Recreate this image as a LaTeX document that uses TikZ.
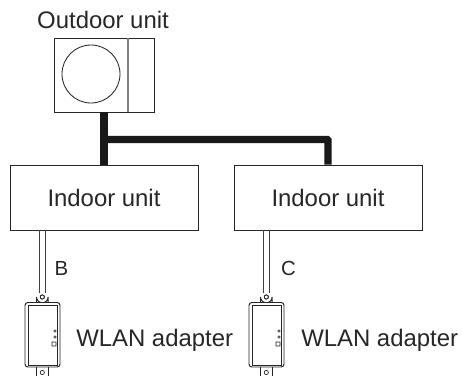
\documentclass[tikz,border=0pt]{standalone}
\usepackage{fontspec}
\setmainfont{Liberation Sans}
\usepackage{tikz}

\tikzset{
	unitbox/.style={draw=black!85, line width=0.7pt, fill=white, inner sep=0pt, minimum width=188*0.025cm, minimum height=65*0.025cm, text=black!85, font=\fontsize{17}{20}\selectfont},
	pipeline/.style={draw=black!90, line width=5pt, rounded corners=0.5pt},
	cableline/.style={draw=black!75, line width=0.7pt},
	lbl/.style={black!85, inner sep=0pt, font=\fontsize{17}{20}\selectfont},
	smalllbl/.style={black!85, inner sep=0pt, font=\fontsize{14.5}{17}\selectfont},
	tabring/.style={draw=black!85, circle, line width=0.5pt, inner sep=0pt, minimum size=3pt},
	adapterline/.style={draw=black!85, line width=0.7pt},
}

\begin{document}
\begin{tikzpicture}[x=0.025cm, y=-0.025cm]
	\useasboundingbox (0,0) rectangle (462,376);
	\node[lbl] (outdoorlabel) at (103,20) {Outdoor unit};
	% boxes
	\node[unitbox, minimum width=100*0.025cm, minimum height=74*0.025cm] (outdoor) at (104,75) {};
	\draw[draw=black!50, line width=0.8pt] (128,38) -- (128,112);
	\draw[draw=black!85, line width=0.6pt] (91,74) circle (29);
	\node[unitbox] (indoorb) at (104,197.5) {Indoor unit};
	\node[unitbox] (indoorc) at (328,197.5) {Indoor unit};
	% pipes
	\coordinate (branchstart) at (104,139.5);
	\draw[pipeline] (outdoor.south) -- (indoorb.north);
	\draw[pipeline] (branchstart) -| (indoorc.north);
	% first adapter
	\node[tabring] (ringb) at (42.3,297) {};
	\coordinate (cablebtop) at (ringb |- indoorb.south);
	\coordinate (cablebend) at (42.3,293);
	\draw[cableline] ([xshift=-2.2pt]cablebtop) -- ([xshift=-2.2pt]cablebend);
	\draw[cableline] ([xshift=2.2pt]cablebtop) -- ([xshift=2.2pt]cablebend);
	\draw[adapterline, fill=white] (36.5,302) -- (36.5,297) arc (180:0:5.8) -- (48.1,302);
	\node[tabring] at (ringb) {};
	\draw[adapterline, fill=white, rounded corners=2pt] (25,302.5) rectangle (60,367);
	\draw[adapterline] (28,305.5) rectangle (57,365.5);
	\draw[draw=black!85, line width=0.4pt] (55,331) circle (1.2) (55,337) circle (1.2) (52,342) rectangle (56,346);
	\draw[adapterline] (36.5,367) -- (36.5,376) (48.1,367) -- (48.1,376);
	\node[tabring] (ringbb) at (42.3,372.5) {};
	\node[smalllbl] (labelb) at (61.5,268) {B};
	\node[lbl, anchor=west] (adapterb) at (76,340) {WLAN adapter};
	% second adapter
	\node[tabring] (ringc) at (266.3,297) {};
	\coordinate (cablectop) at (ringc |- indoorc.south);
	\coordinate (cablecend) at (266.3,293);
	\draw[cableline] ([xshift=-2.2pt]cablectop) -- ([xshift=-2.2pt]cablecend);
	\draw[cableline] ([xshift=2.2pt]cablectop) -- ([xshift=2.2pt]cablecend);
	\draw[adapterline, fill=white] (260.5,302) -- (260.5,297) arc (180:0:5.8) -- (272.1,302);
	\node[tabring] at (ringc) {};
	\draw[adapterline, fill=white, rounded corners=2pt] (249,302.5) rectangle (284,367);
	\draw[adapterline] (252,305.5) rectangle (281,365.5);
	\draw[draw=black!85, line width=0.4pt] (279,331) circle (1.2) (279,337) circle (1.2) (276,342) rectangle (280,346);
	\draw[adapterline] (260.5,367) -- (260.5,376) (272.1,367) -- (272.1,376);
	\node[tabring] (ringcc) at (266.3,372.5) {};
	\node[smalllbl] (labelc) at (288.5,268) {C};
	\node[lbl, anchor=west] (adapterc) at (301,340) {WLAN adapter};
\end{tikzpicture}
\end{document}
